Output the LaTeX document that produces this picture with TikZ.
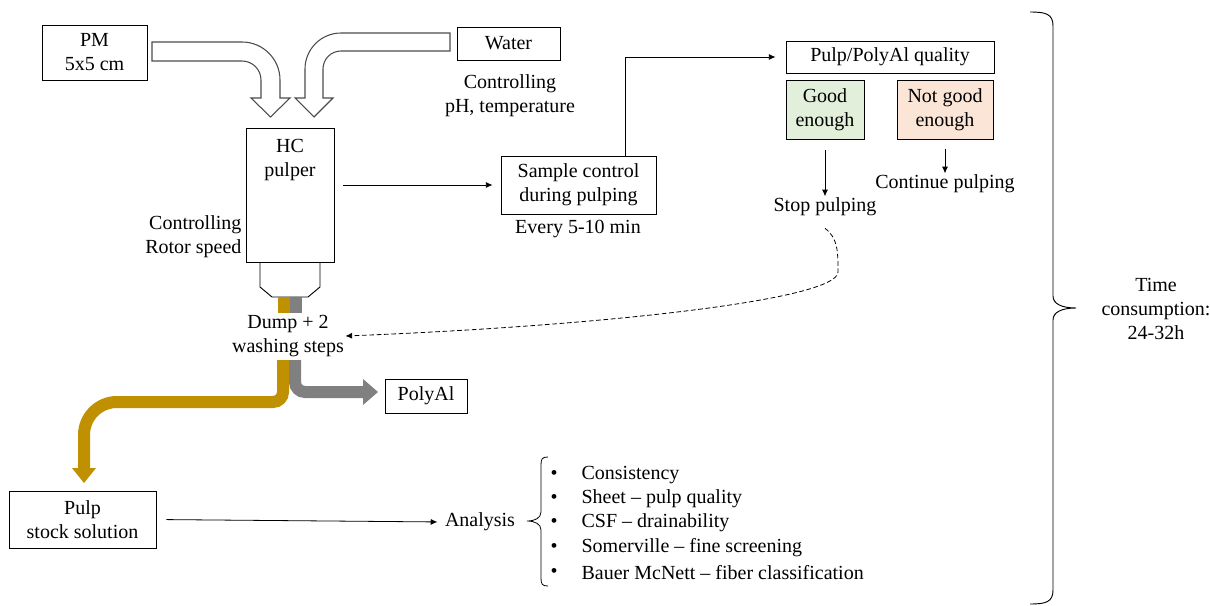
\documentclass[tikz,border=0pt]{standalone}
\usepackage{fontspec}
\setmainfont{Liberation Serif}
\usetikzlibrary{arrows.meta}

\definecolor{goldflow}{RGB}{191,144,0}
\definecolor{grayflow}{RGB}{128,128,128}
\definecolor{goodfill}{RGB}{226,239,218}
\definecolor{badfill}{RGB}{251,229,214}

\tikzset{
  box/.style={draw, line width=0.7pt, align=center, inner sep=0pt, font=\fontsize{15}{18}\selectfont},
  txt/.style={align=center, inner sep=1pt, font=\fontsize{15}{18}\selectfont},
  hollow/.style={draw=black!70, fill=white, line width=0.8pt},
  stream/.style={line width=9pt},
  conn/.style={-{Latex[length=5pt,width=4.5pt]}, line width=0.6pt},
}

\begin{document}
\begin{tikzpicture}[x=0.75pt, y=-0.75pt]
    \useasboundingbox (0,0) rectangle (1210,606);

    % Eingaben
    \node[box, minimum width=78.75pt, minimum height=41.25pt] (pm) at (94.5,52.5) {PM\\5x5 cm};
    \node[box, minimum width=77.25pt, minimum height=24.75pt] (water) at (508.5,43.5) {Water};
    \node[txt] (phctrl) at (510,96) {Controlling\\pH, temperature};

    % Hohlpfeile in den Pulper
    \draw[hollow] (152,42) -- (242,42) arc[start angle=-90, end angle=0, radius=38]
        -- (280,98) -- (290,98) -- (270.5,117) -- (251,98) -- (261,98) -- (261,80)
        arc[start angle=0, end angle=-90, radius=19] -- (152,61) -- cycle;
    \draw[hollow] (450,33) -- (341,33) arc[start angle=-90, end angle=-180, radius=36]
        -- (305,98) -- (295,98) -- (314,117) -- (333,98) -- (323,98) -- (323,69)
        arc[start angle=180, end angle=270, radius=18] -- (450,51) -- cycle;

    % Pulper
    \node[box, minimum width=66pt, minimum height=100.5pt] (pulper) at (290,195) {};
    \node[txt] (pulpername) at (290,160) {HC\\pulper};
    \draw[line width=0.7pt] (260,262) -- (260,287) -- (272,297) -- (308,297) -- (320,287) -- (320,262);
    \fill[goldflow] (278,297) rectangle (290,313);
    \fill[grayflow] (290,297) rectangle (302,313);
    \node[txt, anchor=east, align=right] (rotor) at (243,236.5) {Controlling\\Rotor speed};
    \node[txt] (dump) at (288,336) {Dump + 2\\washing steps};

    % Ströme nach dem Ablassen
    \draw[stream, goldflow] (283,360) -- (283,392) arc[start angle=0, end angle=90, radius=10]
        -- (117,402) arc[start angle=-90, end angle=-180, radius=33] -- (84,468);
    \fill[goldflow] (72,468) -- (96,468) -- (84,483) -- cycle;
    \draw[stream, grayflow] (295,360) -- (295,382) arc[start angle=180, end angle=90, radius=10] -- (363,392);
    \fill[grayflow] (363,379) -- (378,392) -- (363,405) -- cycle;
    \node[box, minimum width=61.5pt, minimum height=25.5pt] (polyal) at (426,396) {PolyAl};

    % Probenahme
    \node[box, minimum width=116.25pt, minimum height=43.5pt] (sample) at (578.5,185) {Sample control\\during pulping};
    \node[txt] (every) at (578,229) {Every 5-10 min};
    \draw[conn, shorten <=6.75pt, shorten >=6pt] (pulper.east |- sample.west) -- (sample.west);

    \node[box, minimum width=156pt, minimum height=24pt] (quality) at (890,57) {Pulp/PolyAl quality};
    \draw[conn, shorten >=7.5pt] ([xshift=34.9pt]sample.north) |- (quality.west);
    \node[box, fill=goodfill, minimum width=58.5pt, minimum height=44.25pt] (good) at (825,109.5) {Good\\enough};
    \node[box, fill=badfill, minimum width=72pt, minimum height=44.25pt] (notgood) at (945,109.5) {Not good\\enough};
    \node[txt] (stop) at (825,207) {Stop pulping};
    \node[txt] (cont) at (945,184) {Continue pulping};
    \draw[conn, shorten <=8pt] (good.south) -- (stop.north);
    \draw[conn, shorten <=7pt] (notgood.south) -- (cont.north);
    \draw[conn, dash pattern=on 3.5pt off 2pt] ([yshift=-8pt]stop.south) .. controls (838,238) and (838,252) .. (838,272)
        .. controls (838,300) and (600,326) .. (dump.east);

    % Analyse
    \node[box, minimum width=110.25pt, minimum height=42.75pt] (stock) at (82.5,519.5) {Pulp\\stock solution};
    \node[txt] (analysis) at (480,522) {Analysis};
    \draw[conn, shorten <=7.5pt, shorten >=4.5pt] (stock.east) -- (analysis.west);
    \draw[line width=0.6pt] (548,457) .. controls (542,457) and (541,459) .. (541,465) -- (541,512)
        .. controls (541,518) and (535,521) .. (527,521) .. controls (535,521) and (541,524) .. (541,530)
        -- (541,578) .. controls (541,584) and (542,586) .. (548,586);
    \foreach \y/\entry [count=\i] in {475/Consistency, 499/Sheet -- pulp quality,
        523/CSF -- drainability, 548/Somerville -- fine screening,
        573/Bauer McNett -- fiber classification}{
        \node[txt, anchor=west] (dot\i) at (549,\y) {\textbullet};
        \node[txt, anchor=west] (entry\i) at (580,\y) {\entry};
    }

    % Gesamtdauer
    \draw[line width=0.7pt] (1030,12) .. controls (1046,12) and (1053,14) .. (1053,26) -- (1053,296)
        .. controls (1053,304) and (1062,308) .. (1076,308) .. controls (1062,308) and (1053,312) .. (1053,320)
        -- (1053,590) .. controls (1053,602) and (1046,604) .. (1030,604);
    \node[txt] (time) at (1156,309) {Time\\consumption:\\24-32h};
\end{tikzpicture}
\end{document}
